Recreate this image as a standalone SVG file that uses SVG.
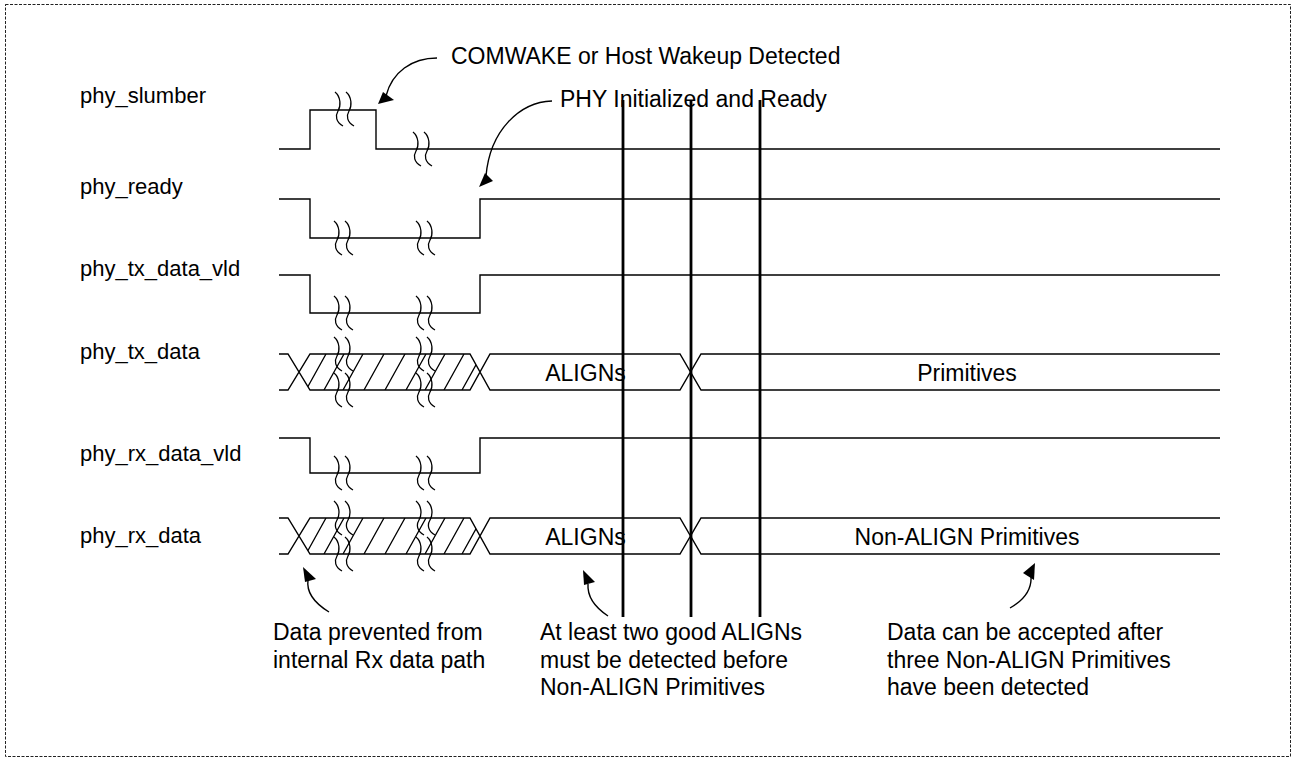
<svg xmlns="http://www.w3.org/2000/svg" xmlns:xlink="http://www.w3.org/1999/xlink" width="1294" height="761" viewBox="0 0 1294 761">
<style>
.sig{fill:none;stroke:#000;stroke-width:1.4;stroke-linejoin:miter}
.brk path{fill:none;stroke:#000;stroke-width:1.3}
.hatch{fill:none;stroke:#000;stroke-width:1.3}
.lbl{font-family:"Liberation Sans",Arial,sans-serif;font-size:22px;fill:#000}
.ann{font-family:"Liberation Sans",Arial,sans-serif;font-size:23px;fill:#000}
.mark{stroke:#000;stroke-width:2.8}
.arc{fill:none;stroke:#000;stroke-width:1.4}
.head{fill:#000}
</style>
<defs>
<g id="brk" class="brk"><path d="M-4,-17 C2,-12 2,-3 -1,2 C-4,7 -3,13 4,17"/><path d="M7,-17 C13,-12 13,-3 10,2 C7,7 8,13 15,17"/></g>
<clipPath id="hexTx"><polygon points="310,354 470,354 480,372 470,390 310,390 299,372"/></clipPath>
<clipPath id="hexRx"><polygon points="310,518 470,518 480,536 470,554 310,554 299,536"/></clipPath>
<g id="hatchLines" class="hatch">
<path d="M306,36 L326,0 M324,36 L344,0 M343,36 L363,0 M364,36 L384,0 M385,36 L405,0 M406,36 L426,0 M425,36 L445,0 M444,36 L464,0 M462,36 L482,0 M288,36 L308,0"/>
</g>
</defs>
<rect x="5.5" y="4.5" width="1285" height="752" fill="none" stroke="#222" stroke-width="1" stroke-dasharray="3,1.5"/>

<g id="phy_slumber">
<text class="lbl" x="80" y="103">phy_slumber</text>
<polyline class="sig" points="279,149 310,149 310,110 376,110 376,149 1220,149"/>
<use xlink:href="#brk" x="339" y="109"/>
<use xlink:href="#brk" x="417" y="149"/>
</g>

<g id="phy_ready">
<text class="lbl" x="80" y="194">phy_ready</text>
<polyline class="sig" points="279,199 310,199 310,238 480,238 480,199 1220,199"/>
<use xlink:href="#brk" x="338" y="238"/>
<use xlink:href="#brk" x="420" y="238"/>
</g>

<g id="phy_tx_data_vld">
<text class="lbl" x="80" y="276">phy_tx_data_vld</text>
<polyline class="sig" points="279,275 310,275 310,313 480,313 480,275 1220,275"/>
<use xlink:href="#brk" x="338" y="313"/>
<use xlink:href="#brk" x="420" y="313"/>
</g>

<g id="phy_tx_data">
<text class="lbl" x="80" y="359">phy_tx_data</text>
<path class="sig" d="M279,354 L288,354 L310,390 L470,390 L490,354 L680,354 L701,390 L1220,390 M279,390 L288,390 L310,354 L470,354 L490,390 L680,390 L701,354 L1220,354"/>
<g clip-path="url(#hexTx)"><use xlink:href="#hatchLines" x="0" y="354"/></g>
<use xlink:href="#brk" x="338" y="354"/>
<use xlink:href="#brk" x="338" y="390"/>
<use xlink:href="#brk" x="420" y="354"/>
<use xlink:href="#brk" x="420" y="390"/>
<text class="ann" x="585.5" y="381" text-anchor="middle">ALIGNs</text>
<text class="ann" x="967" y="381" text-anchor="middle">Primitives</text>
</g>

<g id="phy_rx_data_vld">
<text class="lbl" x="80" y="461">phy_rx_data_vld</text>
<polyline class="sig" points="279,438 310,438 310,473 480,473 480,438 1220,438"/>
<use xlink:href="#brk" x="338" y="473"/>
<use xlink:href="#brk" x="420" y="473"/>
</g>

<g id="phy_rx_data">
<text class="lbl" x="80" y="543">phy_rx_data</text>
<path class="sig" d="M279,518 L288,518 L310,554 L470,554 L490,518 L680,518 L701,554 L1220,554 M279,554 L288,554 L310,518 L470,518 L490,554 L680,554 L701,518 L1220,518"/>
<g clip-path="url(#hexRx)"><use xlink:href="#hatchLines" x="0" y="518"/></g>
<use xlink:href="#brk" x="338" y="518"/>
<use xlink:href="#brk" x="338" y="554"/>
<use xlink:href="#brk" x="420" y="518"/>
<use xlink:href="#brk" x="420" y="554"/>
<text class="ann" x="585.5" y="545" text-anchor="middle">ALIGNs</text>
<text class="ann" x="967" y="545" text-anchor="middle">Non-ALIGN Primitives</text>
</g>

<g id="markers">
<line class="mark" x1="623" y1="100" x2="623" y2="617"/>
<line class="mark" x1="691" y1="100" x2="691" y2="617"/>
<line class="mark" x1="760" y1="100" x2="760" y2="617"/>
</g>

<g id="note_comwake"><text class="ann" x="451" y="64">COMWAKE or Host Wakeup Detected</text></g>
<g id="note_phy_ready"><text class="ann" x="560" y="107">PHY Initialized and Ready</text></g>
<g id="note_data_prevented"><text class="ann" x="273" y="640">Data prevented from</text><text class="ann" x="273" y="668">internal Rx data path</text></g>
<g id="note_aligns"><text class="ann" x="540" y="640">At least two good ALIGNs</text><text class="ann" x="540" y="668">must be detected before</text><text class="ann" x="540" y="695">Non-ALIGN Primitives</text></g>
<g id="note_accept"><text class="ann" x="887" y="640">Data can be accepted after</text><text class="ann" x="887" y="668">three Non-ALIGN Primitives</text><text class="ann" x="887" y="695">have been detected</text></g>

<g id="connectors">
<path class="arc" d="M437,58 C412,58 392,72 386,96"/>
<polygon class="head" points="378,104 383,92 394,100"/>
<path class="arc" d="M552,101 C520,102 490,130 486,176"/>
<polygon class="head" points="479,187 485,173 493,181"/>
<path class="arc" d="M329,612 C316,604 306,594 308,580"/>
<polygon class="head" points="303,567 305,582 316,579"/>
<path class="arc" d="M608,616 C596,608 587,598 588,584"/>
<polygon class="head" points="583,570 584,585 595,582"/>
<path class="arc" d="M1010,608 C1024,600 1032,590 1031,576"/>
<polygon class="head" points="1035,563 1023,573 1034,580"/>
</g>
</svg>
